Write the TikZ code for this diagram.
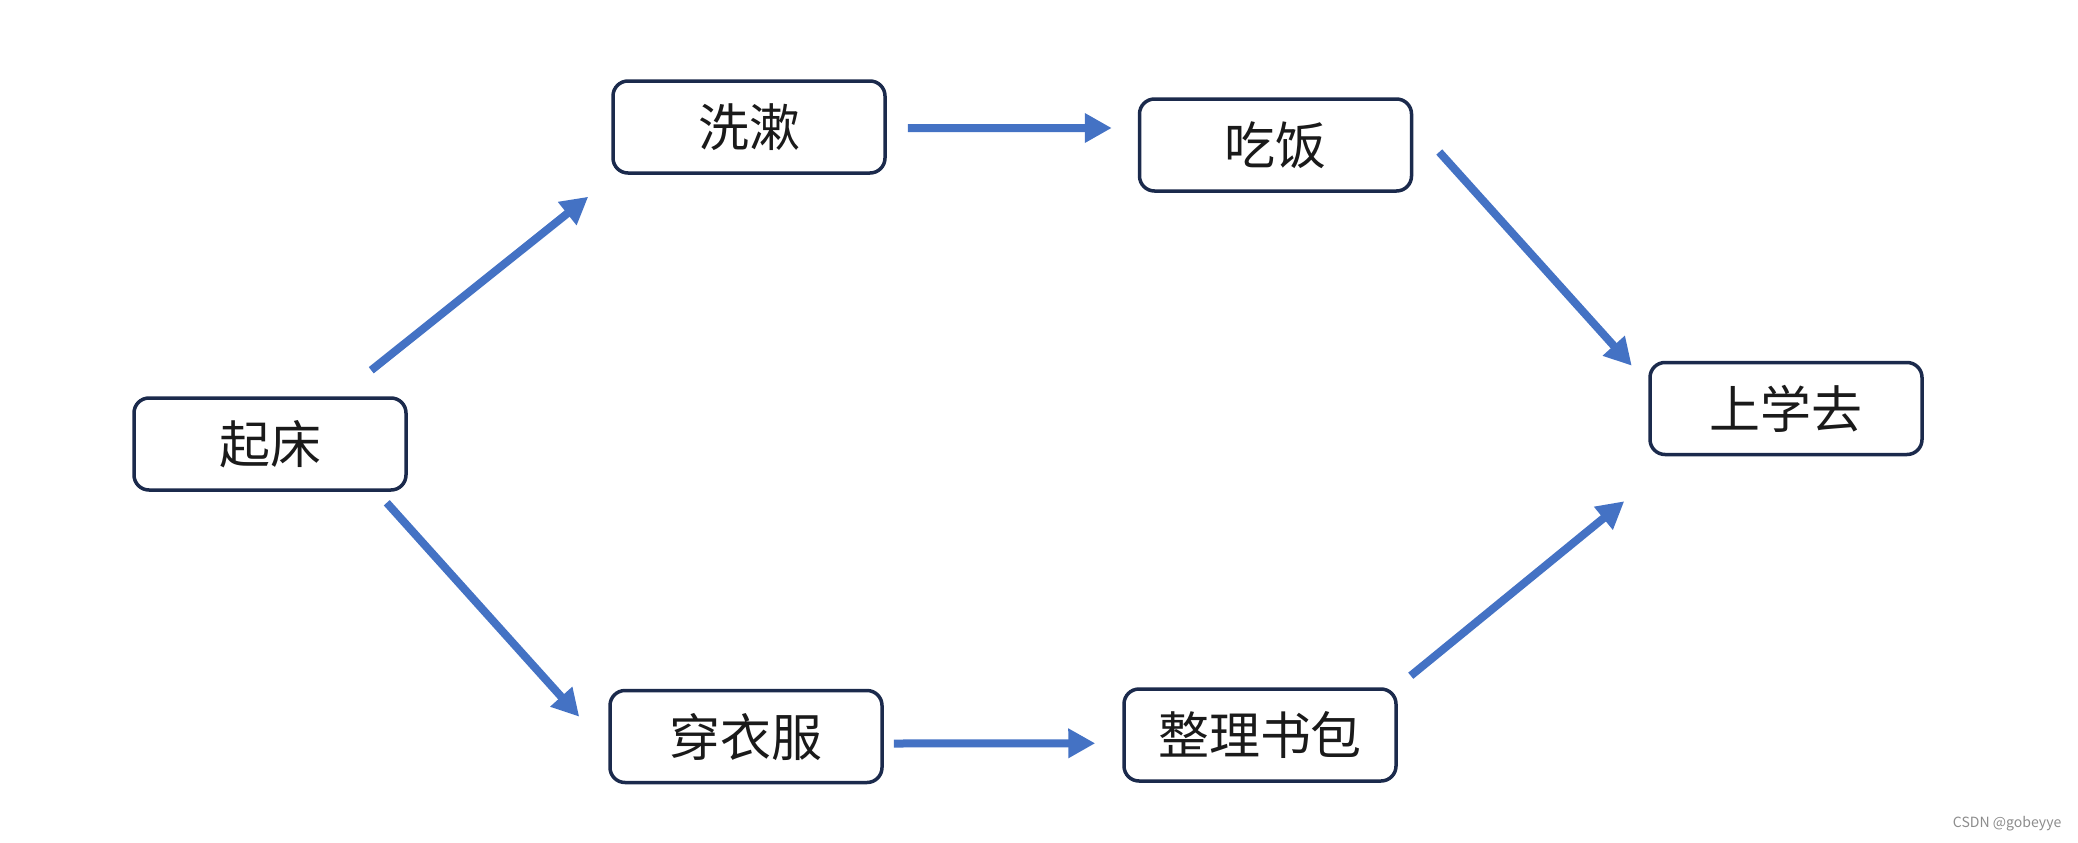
\documentclass[tikz,border=0pt]{standalone}
\usepackage{fontspec}
\setmainfont{Noto Sans CJK SC}
\usepackage{tikz}
\usetikzlibrary{arrows.meta}

\definecolor{flowblue}{HTML}{4472C4}
\definecolor{boxnavy}{HTML}{1B2A4C}
\definecolor{textdark}{HTML}{1A1A1A}

\tikzset{
	task/.style={draw=boxnavy, line width=0.035cm, rounded corners=0.15cm,
		minimum width=2.72cm, minimum height=0.92cm, inner sep=0pt,
		text=textdark, font=\fontsize{14.5pt}{17pt}\selectfont},
	flow/.style={draw=flowblue, line width=0.08cm,
		-{Triangle[length=0.27cm,width=0.28cm]}}
}

\begin{document}
\begin{tikzpicture}
		\useasboundingbox (0,0) rectangle (20.78,8.42);

		\node[task] (qichuang) at (2.70,3.98) {起床};
		\node[task] (xishu) at (7.49,7.15) {洗漱};
		\node[task] (chifan) at (12.755,6.97) {吃饭};
		\node[task] (chuanyi) at (7.46,1.055) {穿衣服};
		\node[task] (zhengli) at (12.60,1.07) {整理书包};
		\node[task] (shangxue) at (17.86,4.335) {上学去};

		\draw[flow] ([shift={(-0.365,0.26)}]qichuang.north east) -- ([shift={(-0.23,-0.22)}]xishu.south west);
		\draw[flow] ([shift={(0.21,-0.01)}]xishu.east) -- ([shift={(-0.26,0.17)}]chifan.west);
		\draw[flow] ([shift={(0.26,-0.07)}]chifan.east) -- ([shift={(-0.165,-0.05)}]shangxue.north west);
		\draw[flow] ([shift={(-0.21,-0.11)}]qichuang.south east) -- ([shift={(-0.29,-0.28)}]chuanyi.north west);
		\draw[flow] ([shift={(0.10,-0.07)}]chuanyi.east) -- ([shift={(-0.27,-0.083)}]zhengli.west);
		\draw[flow] ([shift={(0.13,0.115)}]zhengli.north east) -- ([shift={(-0.24,-0.45)}]shangxue.south west);

		\node[text=black!45, font=\fontsize{4pt}{5pt}\selectfont, anchor=east, inner sep=0pt] (mark) at (20.62,0.18) {CSDN @gobeyye};

\end{tikzpicture}
\end{document}
